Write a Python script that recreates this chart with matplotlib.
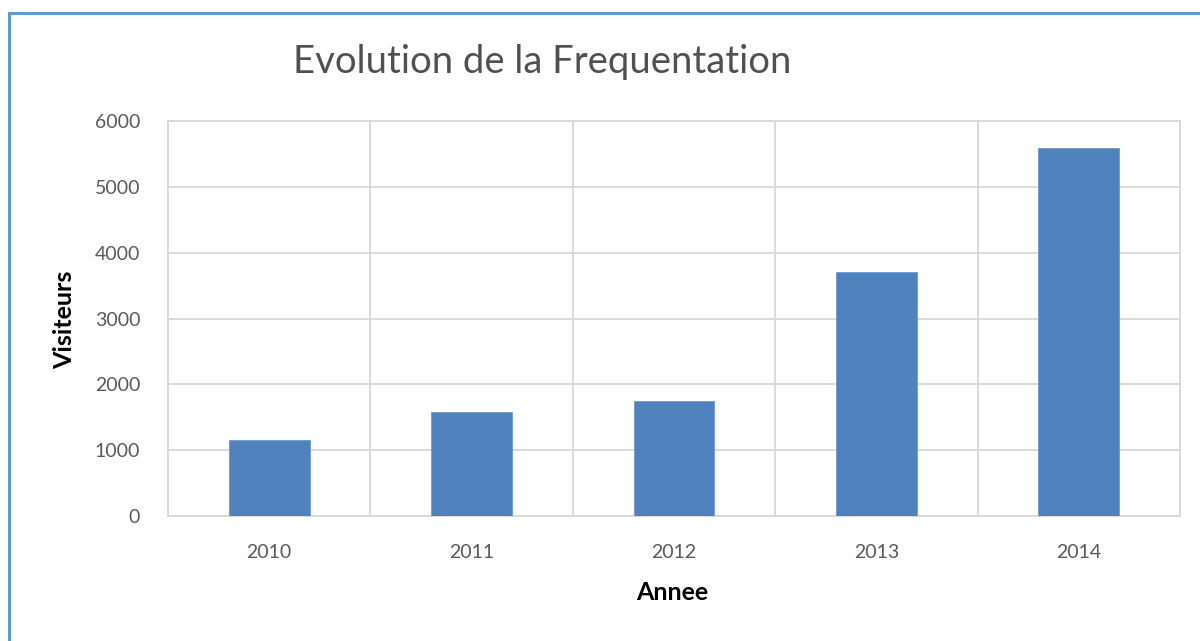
import matplotlib
matplotlib.use("Agg")
import matplotlib.pyplot as plt
from matplotlib.patches import Rectangle
from matplotlib.ticker import MultipleLocator

years = ["2010", "2011", "2012", "2013", "2014"]
visiteurs = [1150, 1580, 1740, 3710, 5590]

plt.rcParams['font.family'] = ['Lato', 'DejaVu Sans']

fig = plt.figure(figsize=(12, 6.41), dpi=100)
fig.patches.append(Rectangle((9/1200, -0.1), 1.2, (641-13)/641 + 0.1, transform=fig.transFigure,
                             fill=False, edgecolor='#5b9bd5', linewidth=2.2))

ax = fig.add_axes([168/1200, 125/641, (1180-168)/1200, (516-121)/641])
x = list(range(len(years)))
ax.bar(x, visiteurs, width=0.4, color='#4f81bd', edgecolor='#6f9bd0', linewidth=0.6, zorder=3)

ax.set_xlim(-0.5, len(years) - 0.5)
ax.set_ylim(0, 6000)
ax.yaxis.set_major_locator(MultipleLocator(1000))
ax.set_xticks(x)
ax.set_xticklabels(years)
ax.set_xticks([i + 0.5 for i in range(len(years) - 1)], minor=True)

grid_c = '#d9d9d9'
ax.grid(axis='y', which='major', color=grid_c, linewidth=1.4, zorder=0)
ax.grid(axis='x', which='minor', color=grid_c, linewidth=1.4, zorder=0)
for s in ax.spines.values():
    s.set_color(grid_c)
    s.set_linewidth(1.4)
ax.tick_params(axis='both', which='both', length=0, labelsize=14, labelcolor='#595959')
ax.tick_params(axis='y', pad=20)
ax.tick_params(axis='x', pad=20)

ax.set_xlabel("Annee", fontsize=18, fontweight='bold', color='black', va='center')
ax.set_ylabel("Visiteurs", fontsize=18, fontweight='bold', color='black', va='center')
ax.xaxis.set_label_coords(0.5 + (672 - 674) / 1012, (516 - 593) / 395)
ax.yaxis.set_label_coords((65 - 168) / 1012, (516 - 320) / 395)

fig.text(542/1200, 1 - 62/641, "Evolution de la Frequentation", ha='center', va='center',
         fontsize=27.5, color='#505050')

fig.savefig("out.png", dpi=100)
